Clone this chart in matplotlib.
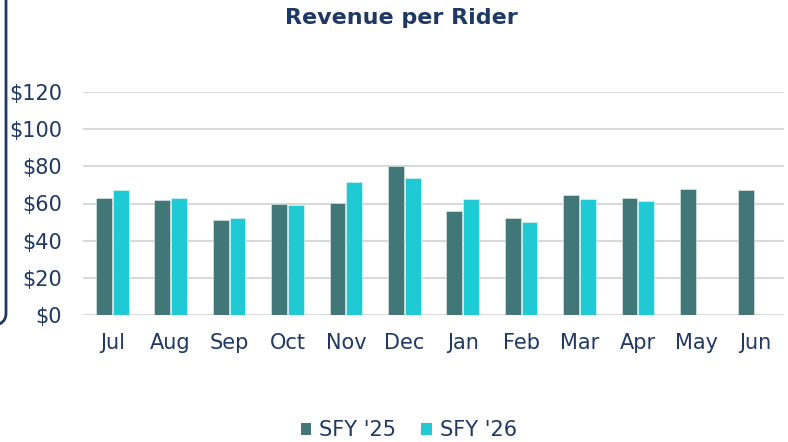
import matplotlib
matplotlib.use("Agg")
import matplotlib.pyplot as plt
import numpy as np
from matplotlib.patches import FancyBboxPatch, Patch

months = ["Jul", "Aug", "Sep", "Oct", "Nov", "Dec", "Jan", "Feb", "Mar", "Apr", "May", "Jun"]
sfy25 = [63.1, 62.0, 51.2, 59.6, 60.4, 80.1, 55.7, 52.3, 64.7, 63.2, 67.7, 67.0]
sfy26 = [67.4, 62.9, 52.3, 59.3, 71.7, 73.6, 62.5, 50.3, 62.2, 61.6, None, None]
series_names = ["SFY '25", "SFY '26"]
yticks = [0, 20, 40, 60, 80, 100, 120]

navy = "#1F3864"
c25 = "#417877"
c26 = "#1FCAD4"

plt.rcParams['font.family'] = ['DejaVu Sans']

fig = plt.figure(figsize=(7.88, 4.42), dpi=100)
ax = fig.add_axes([83/788, 127/442, 701/788, 223/442])

x = np.arange(len(months))
w = 0.27
off = 0.144
ax.bar(x - off, sfy25, width=w, color=c25, edgecolor="#E8EEEE", linewidth=0.4, zorder=3)
v26 = [np.nan if v is None else v for v in sfy26]
ax.bar(x + off, v26, width=w, color=c26, edgecolor="#E8F8F8", linewidth=0.4, zorder=3)

ax.set_xlim(-0.5, len(months) - 0.5)
ax.set_ylim(0, 120)
ax.set_yticks(yticks)
ax.set_yticklabels([f"${v}" for v in yticks])
ax.set_xticks(x)
ax.set_xticklabels(months)
ax.tick_params(axis='both', length=0, labelsize=15, colors=navy)
ax.tick_params(axis='y', pad=15)
ax.tick_params(axis='x', pad=13)
ax.yaxis.grid(True, color="#D9D9D9", linewidth=1.5, zorder=0)
for s in ax.spines.values():
    s.set_visible(False)

fig.text(401/788, 1 - 18/442, "Revenue per Rider", ha='center', va='center',
         fontsize=16, fontweight='bold', color=navy)

handles = [Patch(facecolor=c25), Patch(facecolor=c26)]
fig.legend(handles, series_names, loc='center', bbox_to_anchor=(409/788, 1 - 430/442),
           ncol=2, frameon=False, fontsize=15, labelcolor=navy,
           handlelength=0.5, handleheight=0.5, handletextpad=0.4, columnspacing=1.2)

# rounded border on left edge
box = FancyBboxPatch((-120/788, 1 - 327/442), 126/788, 327/442 + 0.05,
                     boxstyle="round,pad=0,rounding_size=0.03", transform=fig.transFigure,
                     fill=False, edgecolor=navy, linewidth=2, clip_on=False)
fig.patches.append(box)

fig.savefig("out.png", dpi=100)
